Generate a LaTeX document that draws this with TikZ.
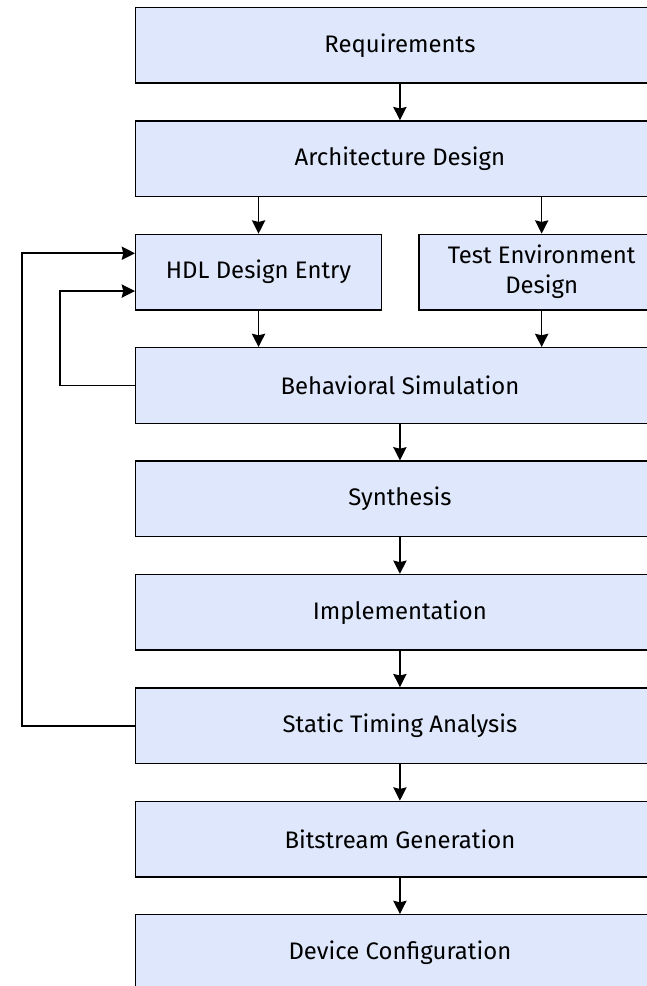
\documentclass[tikz,border=0pt]{standalone}
\usepackage{fontspec}
\setmainfont{Fira Sans}
\usetikzlibrary{arrows.meta}
\definecolor{boxfill}{HTML}{DEE7FB}
\tikzset{
  stage/.style={draw=black, fill=boxfill, line width=1.1pt, minimum height=2cm, inner sep=0pt, font=\fontsize{18}{22.5}\selectfont, align=center},
  wide/.style={stage, minimum width=14cm},
  half/.style={stage, minimum width=6.5cm},
  flow/.style={line width=1.2pt, -{Stealth[length=10pt,width=10pt,inset=1.2pt]}}
}
\begin{document}
\begin{tikzpicture}
\useasboundingbox (0,0) rectangle (17.116,-26.085);
\node[wide] (req) at (10.58,-1.2) {Requirements};
\node[wide] (arch) at (10.58,-4.2) {Architecture Design};
\node[half] (hdl) at (6.84,-7.2) {HDL Design Entry};
\node[half] (test) at (14.33,-7.2) {Test Environment\\Design};
\node[wide] (beh) at (10.58,-10.2) {Behavioral Simulation};
\node[wide] (syn) at (10.58,-13.2) {Synthesis};
\node[wide] (impl) at (10.58,-16.2) {Implementation};
\node[wide] (sta) at (10.58,-19.2) {Static Timing Analysis};
\node[wide] (bit) at (10.58,-22.2) {Bitstream Generation};
\node[wide] (dev) at (10.58,-25.2) {Device Configuration};
\draw[flow] (req) -- (arch);
\draw[flow] (arch.south -| hdl) -- (hdl);
\draw[flow] (arch.south -| test) -- (test);
\draw[flow] (hdl) -- (beh.north -| hdl);
\draw[flow] (test) -- (beh.north -| test);
\draw[flow] (beh) -- (syn);
\draw[flow] (syn) -- (impl);
\draw[flow] (impl) -- (sta);
\draw[flow] (sta) -- (bit);
\draw[flow] (bit) -- (dev);
\coordinate (inA) at ([yshift=0.5cm]hdl.west);
\coordinate (inB) at ([yshift=-0.5cm]hdl.west);
\draw[flow] (beh.west) -| (1.59,0 |- inB) -- (inB);
\draw[flow] (sta.west) -| (0.58,0 |- inA) -- (inA);
\end{tikzpicture}
\end{document}
